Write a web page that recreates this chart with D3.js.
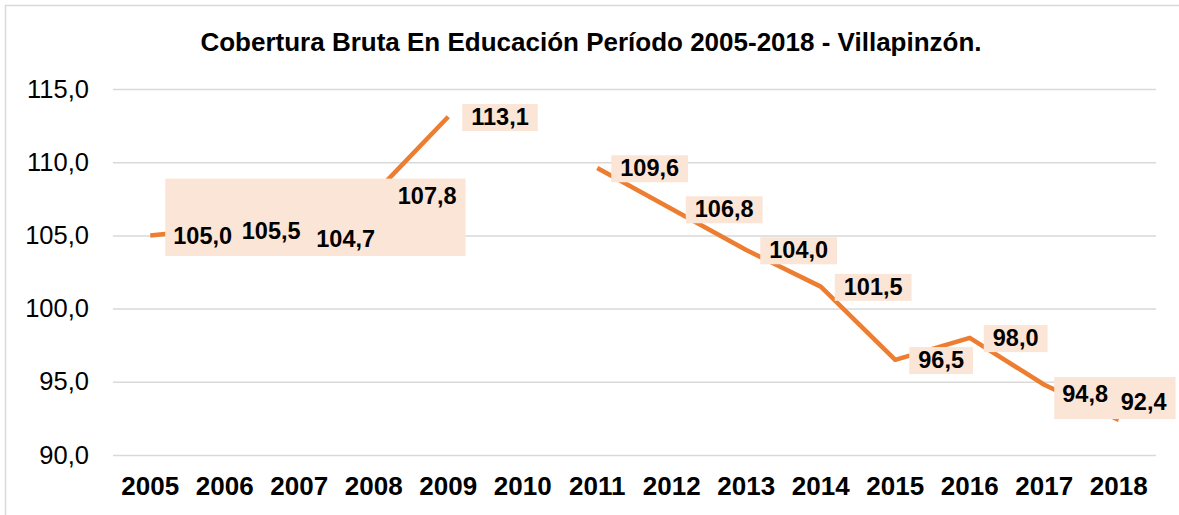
<!DOCTYPE html>
<html lang="es">
<head>
<meta charset="UTF-8">
<title>Cobertura Bruta</title>
<script src="https://cdnjs.cloudflare.com/ajax/libs/d3/7.8.5/d3.min.js"></script>
<style>
  body { margin: 0; background: #fff; }
  svg { display: block; font-family: "Liberation Sans", Arial, sans-serif; }
</style>
</head>
<body>
<div id="chart"></div>
<script>
// datos
const years = ['2005','2006','2007','2008','2009','2010','2011','2012','2013','2014','2015','2016','2017','2018'];
const values = [105.0, 105.5, 104.7, 107.8, 113.1, null, 109.6, 106.8, 104.0, 101.5, 96.5, 98.0, 94.8, 92.4];
const yTicks = [90, 95, 100, 105, 110, 115];
const title = 'Cobertura Bruta En Educación Período 2005-2018 - Villapinzón.';

const W = 1179, H = 515;
const margin = { left: 113, right: 23, top: 89, bottom: 60 };

const svg = d3.select('#chart').append('svg')
    .attr('width', W)
    .attr('height', H);

// marco del grafico (cortado a la derecha y abajo)
svg.append('rect')
    .attr('x', 5.5).attr('y', 5.5)
    .attr('width', W + 10).attr('height', H + 10)
    .attr('fill', 'none')
    .attr('stroke', '#d9d9d9')
    .attr('stroke-width', 1.5);

const fmt = d3.formatLocale({ decimal: ',', thousands: '.', grouping: [3], currency: ['', ''] }).format('.1f');

const x = d3.scaleBand()
    .domain(years)
    .range([margin.left, W - margin.right]);

const y = d3.scaleLinear()
    .domain([90, 115])
    .range([H - margin.bottom, margin.top]);

// titulo
svg.append('text')
    .attr('x', 591)
    .attr('y', 51)
    .attr('text-anchor', 'middle')
    .attr('font-size', 26)
    .attr('font-weight', 'bold')
    .text(title);

// eje y + lineas de cuadricula
const gy = svg.append('g')
    .attr('transform', `translate(${margin.left},0)`)
    .call(d3.axisLeft(y)
        .tickValues(yTicks)
        .tickFormat(fmt)
        .tickSize(-(W - margin.left - margin.right))
        .tickPadding(24));
gy.select('.domain').remove();
gy.selectAll('line').attr('stroke', '#d9d9d9').attr('stroke-width', 1.5);
gy.selectAll('text')
    .attr('font-size', 25.5)
    .attr('font-family', '"Liberation Sans", Arial, sans-serif')
    .attr('fill', '#000');

// eje x
const gx = svg.append('g')
    .attr('transform', `translate(0,${H - margin.bottom})`)
    .call(d3.axisBottom(x).tickSize(0).tickPadding(22));
gx.select('.domain').remove();
gx.selectAll('text')
    .attr('font-size', 26)
    .attr('font-weight', 'bold')
    .attr('font-family', '"Liberation Sans", Arial, sans-serif')
    .attr('fill', '#000');

// linea
const line = d3.line()
    .defined(d => d.v != null)
    .x(d => x(d.year) + x.bandwidth() / 2)
    .y(d => y(d.v));

const pts = years.map((yr, i) => ({ year: yr, v: values[i], i: i }));

svg.append('path')
    .datum(pts)
    .attr('d', line)
    .attr('fill', 'none')
    .attr('stroke', '#ed7d31')
    .attr('stroke-width', 4.5)
    .attr('stroke-linejoin', 'round');

// etiquetas de datos: desplazamiento desde el punto (como quedaron en Excel)
const labelShift = { '2006': [17, 3], '2007': [17, -1], '2008': [24, 1], '2017': [18, 9], '2018': [2, -18] };
// grupos de etiquetas con un solo fondo
const groups = [['2005', '2006', '2007', '2008'], ['2017', '2018']];

const gLab = svg.append('g');
const bgLayer = gLab.append('g');
const txtLayer = gLab.append('g');

const labels = txtLayer.selectAll('text')
    .data(pts.filter(d => d.v != null))
    .join('text')
    .attr('x', d => x(d.year) + x.bandwidth() / 2 + (labelShift[d.year] ? labelShift[d.year][0] : 23))
    .attr('y', d => y(d.v) + (labelShift[d.year] ? labelShift[d.year][1] : 0))
    .attr('dy', '0.35em')
    .attr('font-size', 23.5)
    .attr('font-weight', 'bold')
    .attr('fill', '#000')
    .text(d => fmt(d.v));

const boxes = {};
labels.each(function (d) { boxes[d.year] = this.getBBox(); });

const grouped = new Set(groups.flat());
const rects = [];
Object.keys(boxes).forEach(k => {
    if (grouped.has(k)) return;
    const b = boxes[k];
    rects.push({ x0: b.x - 9, x1: b.x + b.width + 9, y0: b.y, y1: b.y + b.height + 1 });
});
groups.forEach(g => {
    const bs = g.map(k => boxes[k]);
    rects.push({
        x0: d3.min(bs, b => b.x) - 8,
        x1: d3.max(bs, b => b.x + b.width) + 9,
        y0: d3.min(bs, b => b.y) - 4,
        y1: d3.max(bs, b => b.y + b.height) + 4
    });
});

bgLayer.selectAll('rect')
    .data(rects)
    .join('rect')
    .attr('x', r => r.x0)
    .attr('y', r => r.y0)
    .attr('width', r => r.x1 - r.x0)
    .attr('height', r => r.y1 - r.y0)
    .attr('fill', '#fbe5d6');
</script>
</body>
</html>
